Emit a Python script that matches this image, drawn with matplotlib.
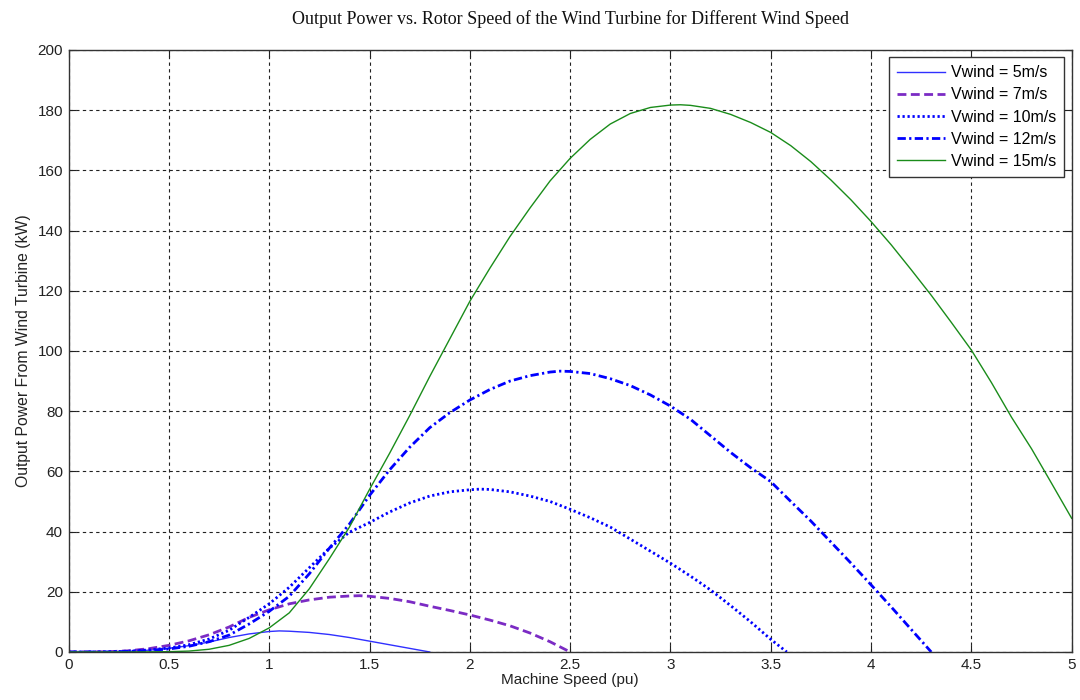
import matplotlib
matplotlib.use("Agg")
import matplotlib.pyplot as plt

# Machine speed (pu) and output power (kW) for each wind speed
speed_5 = [0, 0.1, 0.2, 0.3, 0.4, 0.5, 0.6, 0.7, 0.8, 0.9, 1.0, 1.05, 1.1, 1.2,
           1.3, 1.4, 1.5, 1.6, 1.7, 1.8]
power_5 = [0, 0, 0.05, 0.2, 0.6, 1.2, 2.1, 3.3, 4.8, 6.0, 6.8, 7.0, 6.9, 6.5,
           5.8, 4.8, 3.6, 2.4, 1.2, 0]

speed_7 = [0, 0.1, 0.2, 0.3, 0.4, 0.5, 0.6, 0.7, 0.8, 0.9, 1.0, 1.1, 1.2, 1.3,
           1.4, 1.45, 1.5, 1.6, 1.7, 1.8, 1.9, 2.0, 2.1, 2.2, 2.3, 2.4, 2.5]
power_7 = [0, 0, 0.1, 0.4, 1.1, 2.2, 3.7, 5.7, 8.3, 11.5, 14.0, 16.0, 17.3, 18.2,
           18.6, 18.7, 18.5, 17.8, 16.7, 15.2, 13.8, 12.3, 10.6, 8.7, 6.3, 3.4, 0]

speed_10 = [0, 0.2, 0.3, 0.4, 0.5, 0.6, 0.7, 0.8, 0.9, 1.0, 1.1, 1.2, 1.3, 1.4,
            1.5, 1.6, 1.7, 1.8, 1.9, 2.0, 2.05, 2.1, 2.2, 2.3, 2.4, 2.5, 2.6,
            2.7, 2.8, 2.9, 3.0, 3.1, 3.2, 3.3, 3.4, 3.5, 3.58]
power_10 = [0, 0.05, 0.3, 0.7, 1.3, 2.4, 4.3, 7.2, 11.5, 16.0, 21.5, 28.0, 34.5,
            39.8, 43.0, 46.5, 49.5, 51.8, 53.2, 53.9, 54.1, 54.0, 53.2, 51.8,
            50.0, 47.4, 44.6, 41.5, 37.5, 33.5, 29.5, 25.2, 20.6, 15.4, 10.0,
            4.2, 0]

speed_12 = [0, 0.2, 0.3, 0.4, 0.5, 0.6, 0.7, 0.8, 0.9, 1.0, 1.1, 1.2, 1.3, 1.4,
            1.5, 1.6, 1.7, 1.8, 1.9, 2.0, 2.1, 2.2, 2.3, 2.4, 2.45, 2.5, 2.6,
            2.7, 2.8, 2.9, 3.0, 3.1, 3.2, 3.3, 3.4, 3.5, 3.6, 3.7, 3.8, 3.9,
            4.0, 4.1, 4.2, 4.3]
power_12 = [0, 0.03, 0.2, 0.5, 1.0, 1.9, 3.4, 5.6, 9.3, 13.5, 18.5, 26.0, 34.5,
            42.5, 52.0, 60.5, 68.0, 74.5, 79.5, 83.7, 87.2, 90.0, 91.8, 93.0,
            93.3, 93.2, 92.5, 90.8, 88.5, 85.4, 81.7, 77.3, 71.8, 66.3, 61.2,
            56.6, 50.0, 43.5, 36.5, 29.5, 22.3, 15.0, 7.5, 0]

speed_15 = [0, 0.3, 0.5, 0.6, 0.7, 0.8, 0.9, 1.0, 1.1, 1.2, 1.3, 1.4, 1.5, 1.6,
            1.7, 1.8, 1.9, 2.0, 2.1, 2.2, 2.3, 2.4, 2.5, 2.6, 2.7, 2.8, 2.9,
            3.0, 3.05, 3.1, 3.2, 3.3, 3.4, 3.5, 3.6, 3.7, 3.8, 3.9, 4.0, 4.1,
            4.2, 4.3, 4.4, 4.5, 4.6, 4.7, 4.8, 4.9, 5.0]
power_15 = [0, 0, 0.1, 0.3, 0.9, 2.2, 4.5, 8.0, 13.0, 21.0, 31.0, 41.5, 54.0,
            66.0, 78.5, 91.5, 104.0, 116.5, 127.5, 138.0, 147.5, 156.5, 164.0,
            170.3, 175.4, 178.9, 180.9, 181.7, 181.8, 181.6, 180.6, 178.6,
            175.9, 172.6, 168.2, 162.9, 156.8, 150.2, 143.0, 135.3, 127.0,
            118.5, 109.5, 100.3, 89.5, 78.0, 67.5, 56.0, 44.4]

legend_labels = ["Vwind = 5m/s", "Vwind = 7m/s", "Vwind = 10m/s",
                 "Vwind = 12m/s", "Vwind = 15m/s"]
x_ticks = [0, 0.5, 1, 1.5, 2, 2.5, 3, 3.5, 4, 4.5, 5]
x_tick_labels = ["0", "0.5", "1", "1.5", "2", "2.5", "3", "3.5", "4", "4.5", "5"]
y_ticks = [0, 20, 40, 60, 80, 100, 120, 140, 160, 180, 200]

plt.rcParams["font.family"] = ["Liberation Sans", "DejaVu Sans"]

fig = plt.figure(figsize=(10.8, 7.0), dpi=100)
ax = fig.add_axes([0.0635, 0.0686, 0.9288, 0.86])

ax.plot(speed_5, power_5, color="#3030ff", lw=1.0, ls="-", label=legend_labels[0])
ax.plot(speed_7, power_7, color="#7b2bc4", lw=2.0, ls=(0, (3.2, 1.6)), label=legend_labels[1])
ax.plot(speed_10, power_10, color="#0000ff", lw=2.0, ls=(0, (0.8, 1.0)), label=legend_labels[2])
ax.plot(speed_12, power_12, color="#0000ff", lw=2.0, ls=(0, (3.0, 1.2, 0.8, 1.2)), label=legend_labels[3])
ax.plot(speed_15, power_15, color="#1a8c1a", lw=1.0, ls="-", label=legend_labels[4])

ax.set_xlim(0, 5)
ax.set_ylim(0, 200)
ax.set_xticks(x_ticks)
ax.set_xticklabels(x_tick_labels)
ax.set_yticks(y_ticks)

ax.grid(True, color="#222222", lw=0.8, ls=(0, (3, 3)))
ax.tick_params(direction="in", top=True, right=True, length=5, width=0.8,
               labelsize=11, colors="#222222", pad=4)
for sp in ax.spines.values():
    sp.set_color("#333333")
    sp.set_linewidth(1.0)

ax.set_title("Output Power vs. Rotor Speed of the Wind Turbine for Different Wind Speed",
             family=["Liberation Serif", "DejaVu Serif"], fontsize=13,
             color="#111111", pad=19)
ax.set_xlabel("Machine Speed (pu)", fontsize=11, color="#222222", labelpad=1)
ax.set_ylabel("Output Power From Wind Turbine (kW)", fontsize=11.3,
              color="#222222", labelpad=5)

leg = ax.legend(loc="upper right", fontsize=11.5, fancybox=False, framealpha=1,
                edgecolor="#333333", handlelength=3.0, borderaxespad=0.45,
                labelspacing=0.45, borderpad=0.5, handletextpad=0.4)
leg.get_frame().set_linewidth(1.0)

fig.savefig("out.png", dpi=100)
